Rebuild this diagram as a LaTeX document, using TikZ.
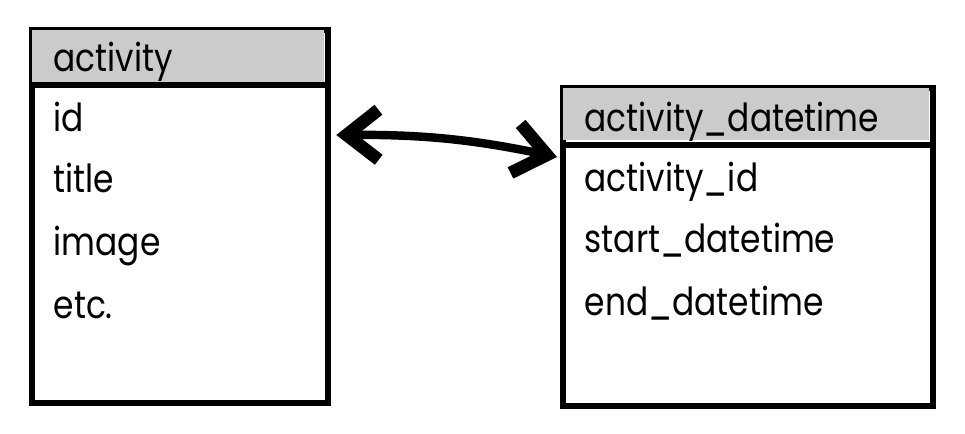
\documentclass[tikz,border=0pt]{standalone}
\usepackage{fontspec}
\setmainfont{Poppins}[FakeStretch=0.85]
\usetikzlibrary{arrows.meta, positioning, calc}
\definecolor{hdrGrey}{HTML}{CBCBCB}
\tikzset{
  tblbox/.style   = {draw=black, line width=1.8pt, fill=white, anchor=north west, inner sep=0pt},
  tblhead/.style  = {fill=hdrGrey, anchor=north west, inner sep=0pt},
  sepline/.style  = {line width=1.8pt, black},
  headtxt/.style  = {anchor=base west, inner sep=0pt, font=\fontsize{11}{13}\selectfont},
  rowtxt/.style   = {anchor=base west, inner sep=0pt, font=\fontsize{11}{13}\selectfont},
  relarrow/.style = {{Straight Barb[length=3.2mm, width=5mm, line width=3.6pt]}-{Straight Barb[length=3.2mm, width=5mm, line width=3.6pt]},
                     line width=2.4pt, line cap=round, line join=round},
}
\begin{document}
\begin{tikzpicture}[x=0.1mm,y=-0.1mm]
  \useasboundingbox (0,0) rectangle (965,434);
  % table activity
  \node[tblbox, minimum width=29.6mm, minimum height=37.3mm] (act) at (29,27) {};
  \node[tblhead, minimum width=29.2mm, minimum height=5.6mm] (actH) at (31,29) {};
  \draw[sepline] (act.west |- 0,85) -- (act.east |- 0,85);
  \node[headtxt] (actT) at (53,72) {activity};
  \foreach \y/\n/\t in {132/1/id, 193/2/title, 256/3/image, 319/4/etc.} {
    \node[rowtxt] (actR\n) at (53,\y) {\t};
  }
  % table activity_datetime
  \node[tblbox, minimum width=37mm, minimum height=31.8mm] (adt) at (560,85) {};
  \node[tblhead, minimum width=36.6mm, minimum height=5.2mm] (adtH) at (562,87) {};
  \draw[sepline] (adt.west |- 0,145) -- (adt.east |- 0,145);
  \node[headtxt] (adtT) at (584,132) {activity\_datetime};
  \foreach \y/\n/\t in {192/1/activity\_id, 253/2/start\_datetime, 316/3/end\_datetime} {
    \node[rowtxt] (adtR\n) at (584,\y) {\t};
  }
  % relation
  \coordinate (relA) at ($(act.east |- 0,135)+(5,0)$);
  \coordinate (relB) at ($(adt.west |- 0,157)+(-3,0)$);
  \draw[relarrow] (relA) to[bend left=6] (relB);
\end{tikzpicture}
\end{document}
